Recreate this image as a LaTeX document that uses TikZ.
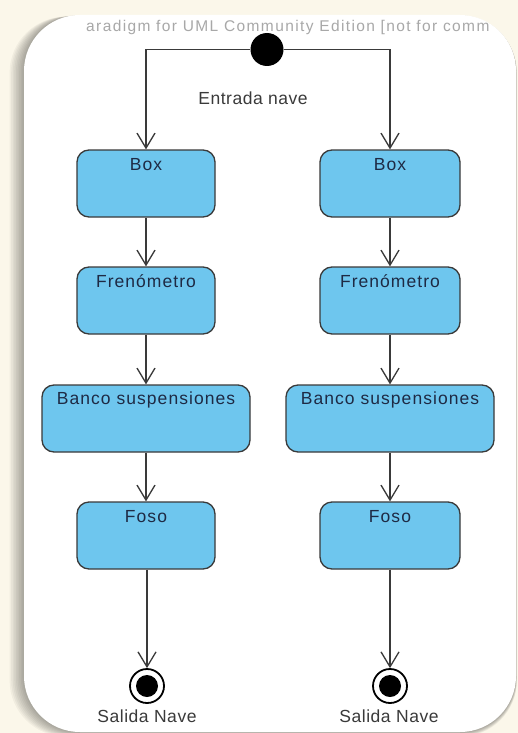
\documentclass[tikz,border=0pt]{standalone}
\usepackage{fontspec}
\setmainfont{Liberation Sans}
\usetikzlibrary{arrows.meta}
\definecolor{bgcream}{HTML}{FBF7EA}
\definecolor{nodeblue}{HTML}{6EC6EE}
\definecolor{edgegray}{HTML}{3A3A3A}
\definecolor{labeltext}{HTML}{1E2A44}
\definecolor{wmgray}{HTML}{A8A8A8}
\begin{document}
\begin{tikzpicture}[x=1pt,y=-1pt,
  stepbox/.style={draw=edgegray, line width=1.3pt, fill=nodeblue, rounded corners=12pt,
    minimum height=67pt, inner sep=0pt},
  boxlabel/.style={font=\fontsize{17.5}{20}\selectfont\addfontfeatures{LetterSpace=6}, text=labeltext, inner sep=0pt, anchor=north},
  flow/.style={draw=edgegray, line width=1.3pt, -{Straight Barb[length=15pt,width=18pt,line width=1.3pt]}},
  startnode/.style={circle, fill=black, minimum size=33pt, inner sep=0pt},
  endnode/.style={circle, draw=black, line width=1.8pt, minimum size=34pt, inner sep=0pt,
    path picture={\fill[black] (path picture bounding box.center) circle (11pt);}},
  plaintext/.style={font=\fontsize{17.5}{20}\selectfont\addfontfeatures{LetterSpace=3}, text=edgegray, inner sep=0pt}
]
\useasboundingbox (0,0) rectangle (518,733);
\fill[bgcream] (0,0) rectangle (518,733);
% shadow
\foreach \i in {1,...,9}{
  \fill[black, opacity=0.04, rounded corners=56pt] (24-1.6*\i, 15+0.2*\i) rectangle (516+0.1*\i, 732+0.5*\i);
}
% panel
\fill[white, rounded corners=56pt] (24,15) rectangle (516,732);
\node[anchor=west, font=\fontsize{15.5}{17}\selectfont\addfontfeatures{LetterSpace=9}, text=wmgray, inner sep=0pt] (wm) at (86,27) {aradigm for UML Community Edition [not for comm};

% initial node
\node[startnode] (init) at (267,49.5) {};
\node[plaintext] (entrada) at (253,98) {Entrada nave};

% left column
\node[stepbox, minimum width=138pt] (lbox) at (146,183.5) {};
\node[stepbox, minimum width=138pt] (lfren) at (146,300.5) {};
\node[stepbox, minimum width=208pt] (lbanco) at (146,418.5) {};
\node[stepbox, minimum width=138pt] (lfoso) at (146,535.5) {};
\node[endnode] (lfin) at (147,686) {};
% right column
\node[stepbox, minimum width=140pt] (rbox) at (390,183.5) {};
\node[stepbox, minimum width=140pt] (rfren) at (390,300.5) {};
\node[stepbox, minimum width=208pt] (rbanco) at (390,418.5) {};
\node[stepbox, minimum width=140pt] (rfoso) at (390,535.5) {};
\node[endnode] (rfin) at (390,686) {};

% labels
\node[boxlabel] (lboxt) at ([yshift=-8.5pt]lbox.north) {Box};
\node[boxlabel] (lfrent) at ([yshift=-8.5pt]lfren.north) {Frenómetro};
\node[boxlabel] (lbancot) at ([yshift=-7.5pt]lbanco.north) {Banco suspensiones};
\node[boxlabel] (lfosot) at ([yshift=-8.5pt]lfoso.north) {Foso};
\node[boxlabel] (rboxt) at ([yshift=-8.5pt]rbox.north) {Box};
\node[boxlabel] (rfrent) at ([yshift=-8.5pt]rfren.north) {Frenómetro};
\node[boxlabel] (rbancot) at ([yshift=-7.5pt]rbanco.north) {Banco suspensiones};
\node[boxlabel] (rfosot) at ([yshift=-8.5pt]rfoso.north) {Foso};
\node[plaintext] (lsal) at (147,716) {Salida Nave};
\node[plaintext] (rsal) at (389,716) {Salida Nave};

% connectors
\draw[flow] (init.west) -| (lbox.north);
\draw[flow] (init.east) -| (rbox.north);
\draw[flow] (lbox) -- (lfren);
\draw[flow] (lfren) -- (lbanco);
\draw[flow] (lbanco.south -| lfoso.north) -- (lfoso.north);
\draw[flow] (lfoso.south -| lfin.north) -- (lfin.north);
\draw[flow] (rbox) -- (rfren);
\draw[flow] (rfren) -- (rbanco);
\draw[flow] (rbanco) -- (rfoso);
\draw[flow] (rfoso) -- (rfin);
\end{tikzpicture}
\end{document}
